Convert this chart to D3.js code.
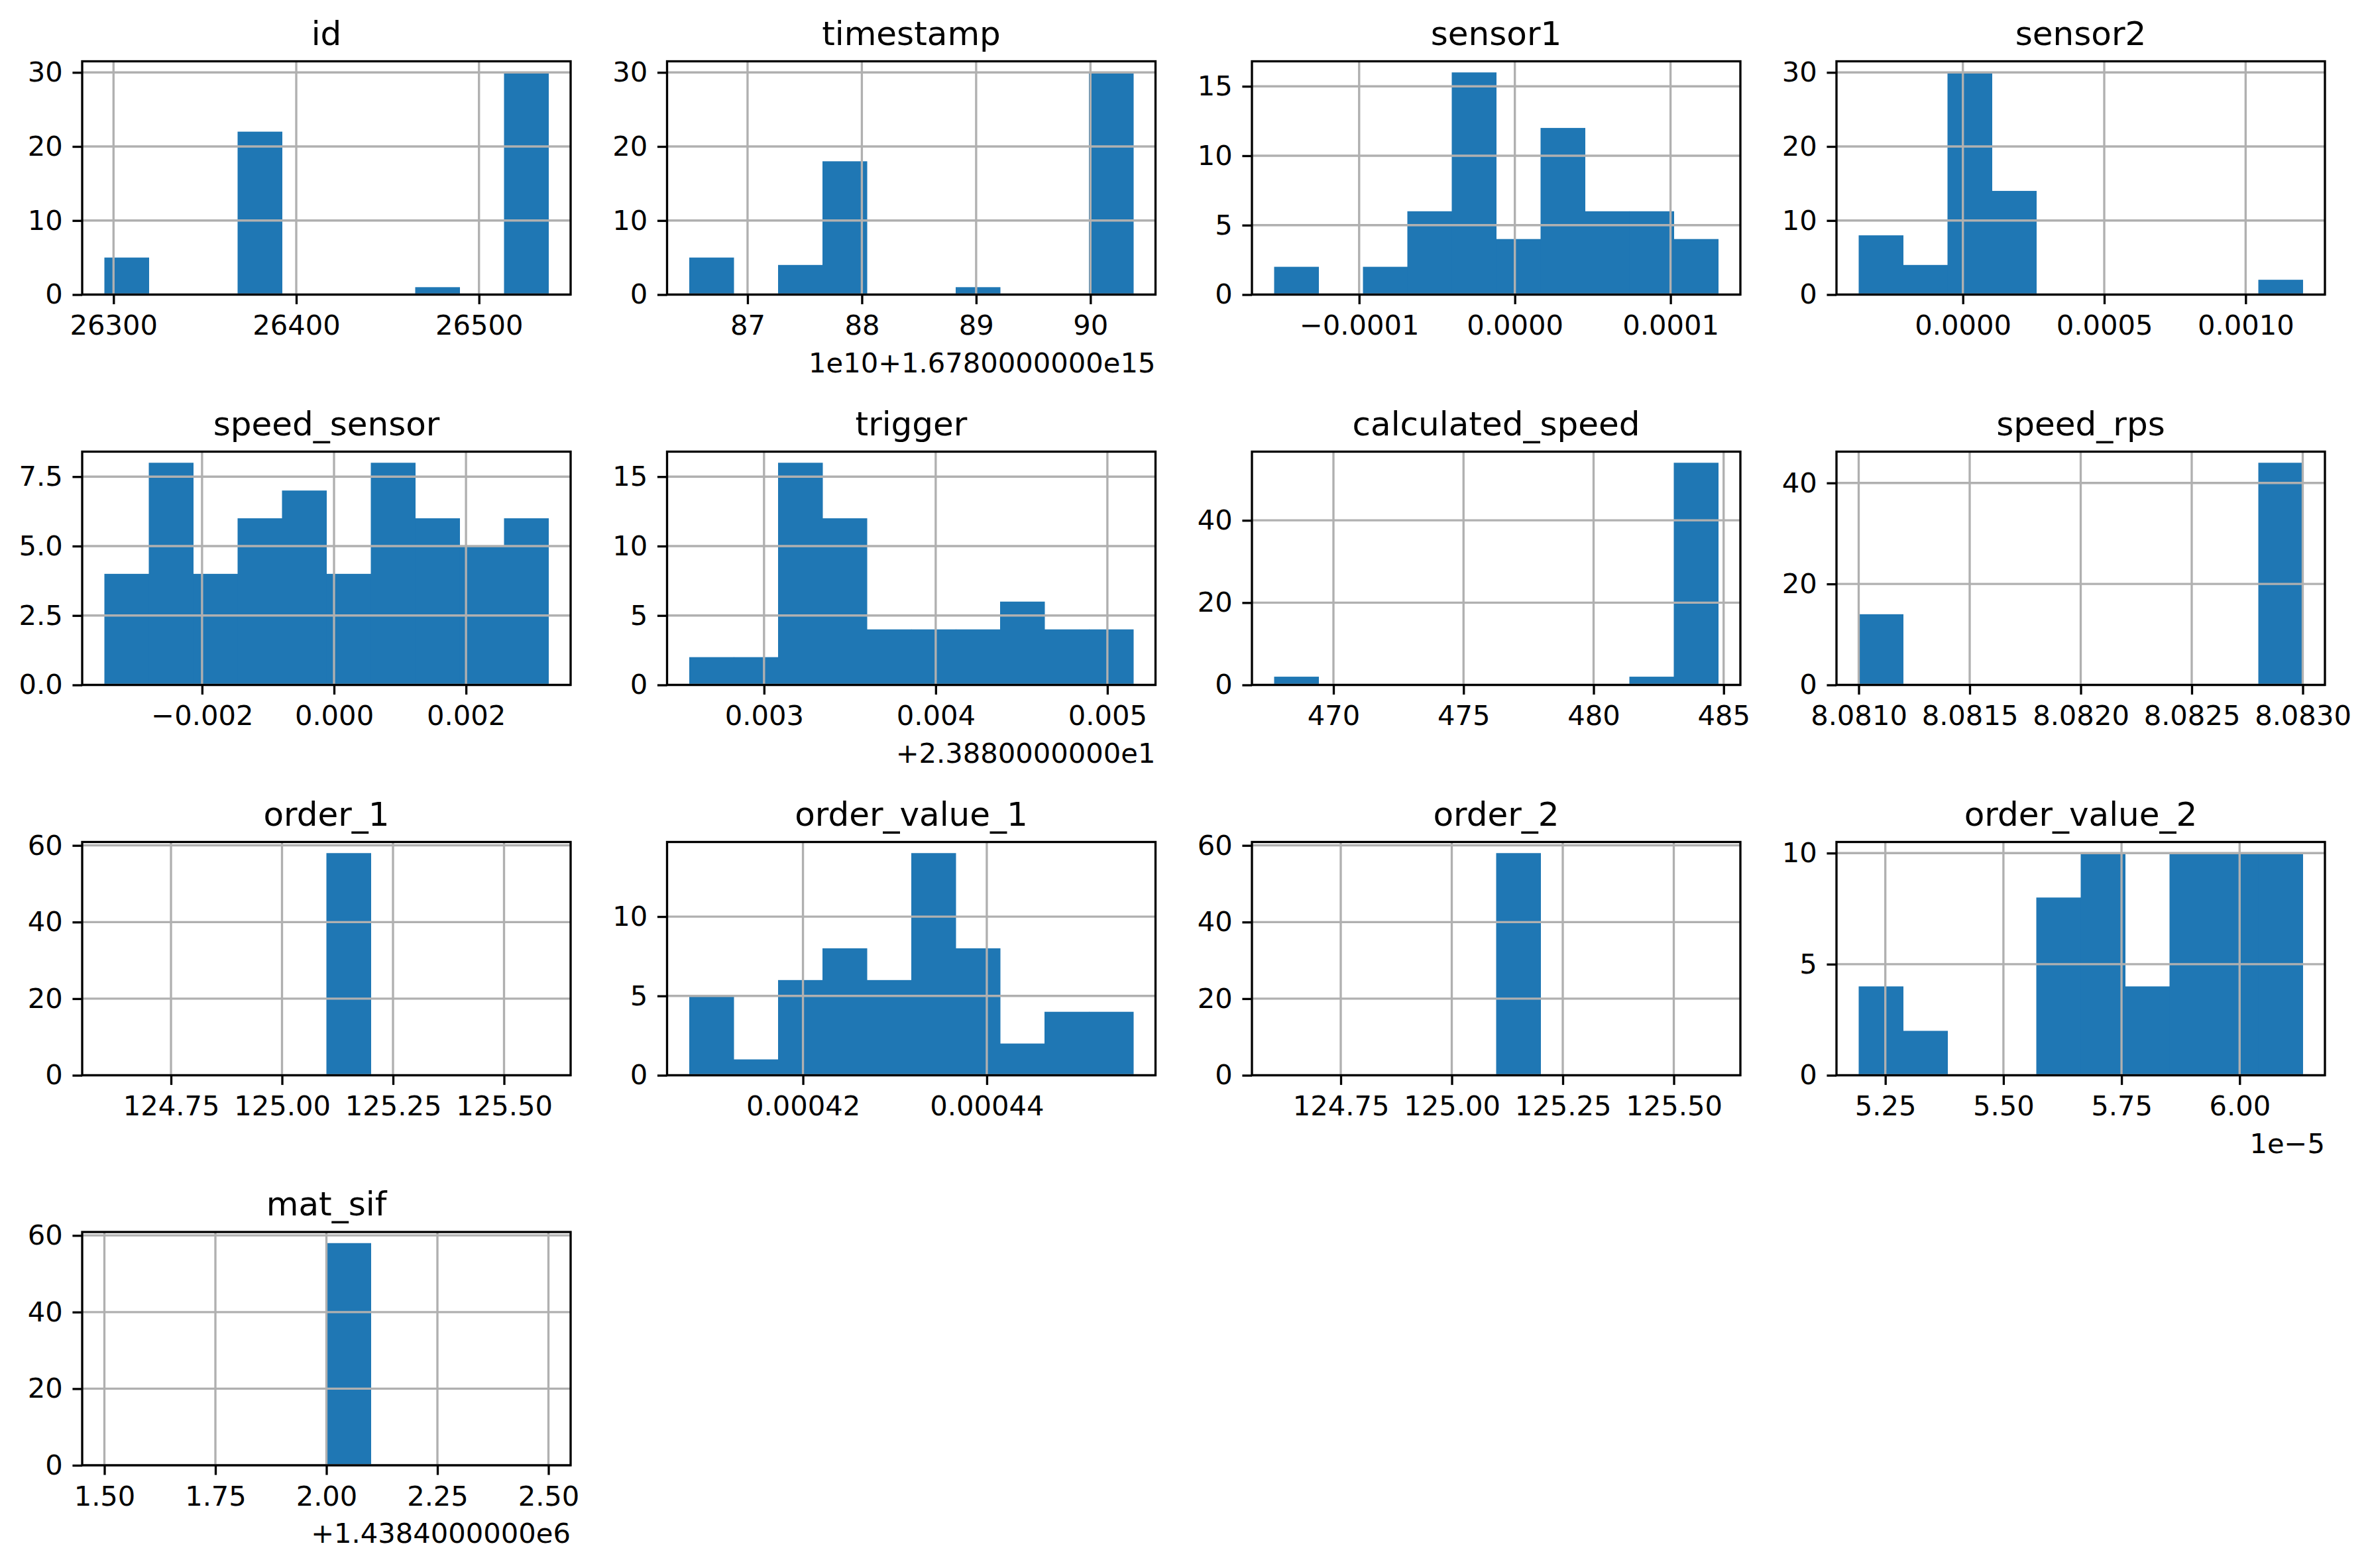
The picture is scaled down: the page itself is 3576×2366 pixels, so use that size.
<!DOCTYPE html>
<html>
<head>
<meta charset="utf-8">
<script src="https://cdn.jsdelivr.net/npm/d3@7"></script>
<style>
  html, body { margin: 0; padding: 0; background: #fff; }
  svg text { font-family: "DejaVu Sans", sans-serif; fill: #000; }
</style>
</head>
<body>
<svg id="chart"></svg>
<script>
// Histogram data (10 bins per column)
const columns = [
  "id", "timestamp", "sensor1", "sensor2",
  "speed_sensor", "trigger", "calculated_speed", "speed_rps",
  "order_1", "order_value_1", "order_2", "order_value_2",
  "mat_sif",
];
const counts = [
  [5, 0, 0, 22, 0, 0, 0, 1, 0, 30],
  [5, 0, 4, 18, 0, 0, 1, 0, 0, 30],
  [2, 0, 2, 6, 16, 4, 12, 6, 6, 4],
  [8, 4, 30, 14, 0, 0, 0, 0, 0, 2],
  [4, 8, 4, 6, 7, 4, 8, 6, 5, 6],
  [2, 2, 16, 12, 4, 4, 4, 6, 4, 4],
  [2, 0, 0, 0, 0, 0, 0, 0, 2, 54],
  [14, 0, 0, 0, 0, 0, 0, 0, 0, 44],
  [0, 0, 0, 0, 0, 58, 0, 0, 0, 0],
  [5, 1, 6, 8, 6, 14, 8, 2, 4, 4],
  [0, 0, 0, 0, 0, 58, 0, 0, 0, 0],
  [4, 2, 0, 0, 8, 10, 4, 10, 10, 10],
  [0, 0, 0, 0, 0, 58, 0, 0, 0, 0],
];
// first and last bin edge, in the units shown on the axis (offset removed)
const binMin = [26295, 86.49, -1.546e-4, -3.685e-4, -0.00348, 0.0025645,
  467.72, 8.081, 124.6, 0.00040763, 124.6, 5.1936, 1.5];
const binMax = [26538, 90.375, 1.306e-4, 1.202e-3, 0.003249, 0.005151,
  484.79, 8.083, 125.6, 0.00045594, 125.6, 6.1336, 2.5];

const xTicks = [
  [26300, 26400, 26500],
  [87, 88, 89, 90],
  [-0.0001, 0, 0.0001],
  [0, 0.0005, 0.001],
  [-0.002, 0, 0.002],
  [0.003, 0.004, 0.005],
  [470, 475, 480, 485],
  [8.081, 8.0815, 8.082, 8.0825, 8.083],
  [124.75, 125, 125.25, 125.5],
  [0.00042, 0.00044],
  [124.75, 125, 125.25, 125.5],
  [5.25, 5.5, 5.75, 6.0],
  [1.5, 1.75, 2.0, 2.25, 2.5],
];
const xTickLabels = [
  ["26300", "26400", "26500"],
  ["87", "88", "89", "90"],
  ["\u22120.0001", "0.0000", "0.0001"],
  ["0.0000", "0.0005", "0.0010"],
  ["\u22120.002", "0.000", "0.002"],
  ["0.003", "0.004", "0.005"],
  ["470", "475", "480", "485"],
  ["8.0810", "8.0815", "8.0820", "8.0825", "8.0830"],
  ["124.75", "125.00", "125.25", "125.50"],
  ["0.00042", "0.00044"],
  ["124.75", "125.00", "125.25", "125.50"],
  ["5.25", "5.50", "5.75", "6.00"],
  ["1.50", "1.75", "2.00", "2.25", "2.50"],
];
const yTicks = [
  [0, 10, 20, 30],
  [0, 10, 20, 30],
  [0, 5, 10, 15],
  [0, 10, 20, 30],
  [0, 2.5, 5, 7.5],
  [0, 5, 10, 15],
  [0, 20, 40],
  [0, 20, 40],
  [0, 20, 40, 60],
  [0, 5, 10],
  [0, 20, 40, 60],
  [0, 5, 10],
  [0, 20, 40, 60],
];
const yTickLabels = [
  ["0", "10", "20", "30"],
  ["0", "10", "20", "30"],
  ["0", "5", "10", "15"],
  ["0", "10", "20", "30"],
  ["0.0", "2.5", "5.0", "7.5"],
  ["0", "5", "10", "15"],
  ["0", "20", "40"],
  ["0", "20", "40"],
  ["0", "20", "40", "60"],
  ["0", "5", "10"],
  ["0", "20", "40", "60"],
  ["0", "5", "10"],
  ["0", "20", "40", "60"],
];
const offsetTexts = [
  "", "1e10+1.6780000000e15", "", "",
  "", "+2.3880000000e1", "", "",
  "", "", "", "1e\u22125",
  "+1.4384000000e6",
];

// Layout (figure 12x8 in at 300 dpi)
const WIDTH = 3576;
const HEIGHT = 2366;
const PT = 300 / 72;
const COL_LEFT = [124, 1006.5, 1889, 2771];
const ROW_TOP = [92.5, 681.5, 1270.5, 1859];
const AX_W = 737;
const AX_H = 352;
const BAR_COLOR = "#1f77b4";
const GRID_COLOR = "#b0b0b0";
const LW = 0.8 * PT;
const TICK_FONT = 10 * PT;
const TITLE_FONT = 12 * PT;

const svg = d3
  .select("#chart")
  .attr("width", WIDTH)
  .attr("height", HEIGHT)
  .attr("viewBox", `0 0 ${WIDTH} ${HEIGHT}`);

svg.append("rect").attr("width", WIDTH).attr("height", HEIGHT).attr("fill", "#fff");

columns.forEach((name, i) => {
  const left = COL_LEFT[i % 4];
  const top = ROW_TOP[Math.floor(i / 4)];
  const bottom = top + AX_H;
  const right = left + AX_W;

  // Bin edges and scales (matplotlib 5% x margin, y sticks to 0)
  const lo = binMin[i];
  const hi = binMax[i];
  const span = hi - lo;
  const edges = d3.range(11).map((k) => lo + (span * k) / 10);
  const x = d3
    .scaleLinear()
    .domain([lo - 0.05 * span, hi + 0.05 * span])
    .range([left, right]);
  const y = d3
    .scaleLinear()
    .domain([0, 1.05 * d3.max(counts[i])])
    .range([bottom, top]);

  const g = svg.append("g").attr("class", "panel");

  // Bars
  g.selectAll("rect.bar")
    .data(counts[i].map((c, k) => ({ c, x0: edges[k], x1: edges[k + 1] })))
    .enter()
    .append("rect")
    .attr("class", "bar")
    .attr("x", (d) => x(d.x0))
    .attr("width", (d) => x(d.x1) - x(d.x0) + 0.5)
    .attr("y", (d) => y(d.c))
    .attr("height", (d) => y(0) - y(d.c))
    .attr("fill", BAR_COLOR);

  // Grid lines (drawn above the bars like pandas' hist)
  g.selectAll("line.vgrid")
    .data(xTicks[i])
    .enter()
    .append("line")
    .attr("x1", (d) => x(d))
    .attr("x2", (d) => x(d))
    .attr("y1", top)
    .attr("y2", bottom)
    .attr("stroke", GRID_COLOR)
    .attr("stroke-width", LW);
  g.selectAll("line.hgrid")
    .data(yTicks[i])
    .enter()
    .append("line")
    .attr("x1", left)
    .attr("x2", right)
    .attr("y1", (d) => y(d))
    .attr("y2", (d) => y(d))
    .attr("stroke", GRID_COLOR)
    .attr("stroke-width", LW);

  // Axes
  const xAxis = d3
    .axisBottom(x)
    .tickValues(xTicks[i])
    .tickFormat((_, k) => xTickLabels[i][k])
    .tickSize(3.5 * PT)
    .tickSizeOuter(0)
    .tickPadding(4 * PT);
  const yAxis = d3
    .axisLeft(y)
    .tickValues(yTicks[i])
    .tickFormat((_, k) => yTickLabels[i][k])
    .tickSize(3.5 * PT)
    .tickSizeOuter(0)
    .tickPadding(3.5 * PT);

  [
    g.append("g").attr("transform", `translate(0,${bottom})`).call(xAxis),
    g.append("g").attr("transform", `translate(${left},0)`).call(yAxis),
  ].forEach((ax) => {
    ax.select(".domain").remove();
    ax.selectAll("line").attr("stroke", "#000").attr("stroke-width", LW);
    ax.selectAll("text")
      .attr("font-size", TICK_FONT)
      .attr("font-family", "DejaVu Sans, sans-serif")
      .attr("fill", "#000");
  });

  // Spines
  g.append("rect")
    .attr("x", left)
    .attr("y", top)
    .attr("width", AX_W)
    .attr("height", AX_H)
    .attr("fill", "none")
    .attr("stroke", "#000")
    .attr("stroke-width", LW);

  // Title
  g.append("text")
    .attr("x", (left + right) / 2)
    .attr("y", top - 6 * PT)
    .attr("text-anchor", "middle")
    .attr("font-size", TITLE_FONT)
    .text(name);

  // Offset text
  if (offsetTexts[i]) {
    g.append("text")
      .attr("x", right)
      .attr("y", bottom + 117)
      .attr("text-anchor", "end")
      .attr("font-size", TICK_FONT)
      .text(offsetTexts[i]);
  }
});
</script>
</body>
</html>
